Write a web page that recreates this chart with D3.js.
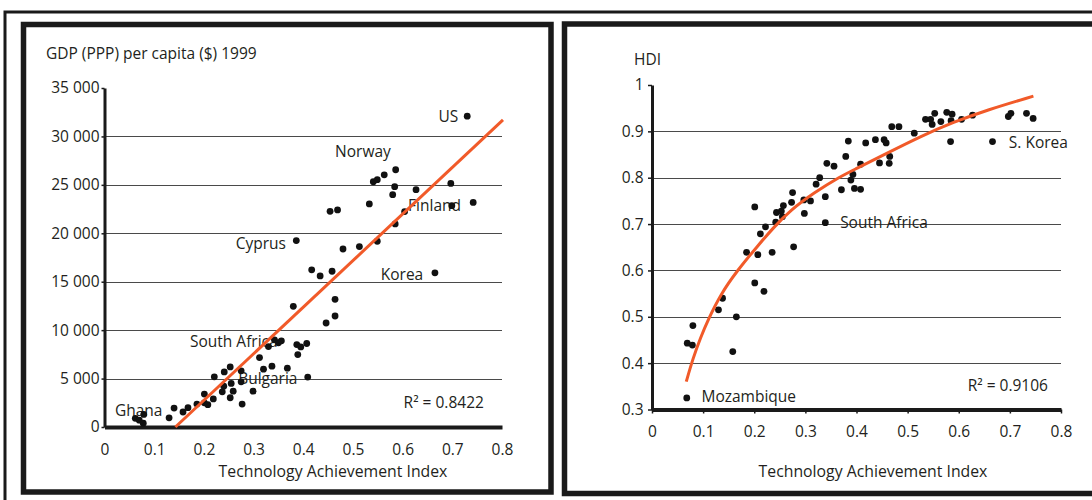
<!DOCTYPE html>
<html>
<head>
<meta charset="utf-8">
<script src="https://cdn.jsdelivr.net/npm/d3@7"></script>
<style>
  body { margin: 0; background: #fff; }
  svg text { font-family: "Open Sans", sans-serif; fill: #231f20; }
</style>
</head>
<body>
<svg id="chart" width="1092" height="500"></svg>
<script>
// Tick values shared by both panels
const taiTicks = [0, 0.1, 0.2, 0.3, 0.4, 0.5, 0.6, 0.7, 0.8];
const gdpTicks = [0, 5000, 10000, 15000, 20000, 25000, 30000, 35000];
const gdpGrid = [5000, 10000, 15000, 20000, 25000, 30000];
const hdiTicks = [0.3, 0.4, 0.5, 0.6, 0.7, 0.8, 0.9, 1];
const hdiGrid = [0.4, 0.5, 0.6, 0.7, 0.8, 0.9];

// Left panel: [technology achievement index, GDP per capita]
const gdpPoints = [
  [0.062, 900], [0.07, 700], [0.078, 400], [0.079, 1300],
  [0.13, 950], [0.14, 1950], [0.158, 1550], [0.168, 2000], [0.186, 2370],
  [0.201, 3400], [0.201, 2500], [0.208, 2300], [0.219, 2900], [0.221, 5180],
  [0.237, 3630], [0.241, 5690], [0.253, 6200], [0.253, 3020], [0.259, 3700],
  [0.255, 4500], [0.240, 4220], [0.277, 2370], [0.275, 5800], [0.275, 4660],
  [0.299, 3700], [0.312, 7170], [0.320, 5970], [0.337, 6280], [0.368, 6070],
  [0.330, 8300], [0.342, 9000], [0.350, 8700], [0.356, 8900], [0.387, 8510],
  [0.395, 8270], [0.407, 8620], [0.389, 7480], [0.409, 5150], [0.380, 12460],
  [0.446, 10740], [0.464, 11460], [0.464, 13180], [0.417, 16230], [0.434, 15600],
  [0.458, 16080], [0.480, 18380], [0.513, 18630], [0.549, 19180], [0.585, 20970],
  [0.604, 22240], [0.386, 19250], [0.454, 22270], [0.469, 22410], [0.533, 23030],
  [0.580, 23990], [0.584, 24810], [0.627, 24500], [0.541, 25320], [0.549, 25530],
  [0.563, 26040], [0.586, 26560], [0.697, 25150], [0.699, 22850], [0.742, 23190],
  [0.730, 32090], [0.665, 15920]
];
const gdpTrend = [[0.1427, 0], [0.802, 31700]];
const gdpLabels = [
  { name: "US", tai: 0.672, val: 31500 },
  { name: "Norway", tai: 0.464, val: 27900 },
  { name: "Finland", tai: 0.611, val: 22300 },
  { name: "Cyprus", tai: 0.264, val: 18380 },
  { name: "Korea", tai: 0.556, val: 15180 },
  { name: "South Africa", tai: 0.172, val: 8290 },
  { name: "Bulgaria", tai: 0.269, val: 4490 },
  { name: "Ghana", tai: 0.021, val: 1140 }
];
const gdpR2 = { text: "R\u00b2 = 0.8422", tai: 0.602, val: 1960 };

// Right panel: [technology achievement index, HDI]
const hdiPoints = [
  [0.068, 0.325], [0.069, 0.443], [0.079, 0.439], [0.080, 0.481], [0.130, 0.515],
  [0.138, 0.540], [0.165, 0.500], [0.158, 0.425], [0.201, 0.573], [0.219, 0.555],
  [0.185, 0.639], [0.207, 0.634], [0.235, 0.639], [0.277, 0.651], [0.212, 0.679],
  [0.222, 0.694], [0.242, 0.704], [0.201, 0.737], [0.2435, 0.725], [0.253, 0.728],
  [0.257, 0.740], [0.255, 0.716], [0.273, 0.747], [0.275, 0.768], [0.298, 0.723],
  [0.297, 0.752], [0.310, 0.750], [0.321, 0.786], [0.328, 0.800], [0.339, 0.759],
  [0.339, 0.703], [0.342, 0.831], [0.356, 0.825], [0.3705, 0.774], [0.379, 0.846],
  [0.384, 0.879], [0.389, 0.795], [0.393, 0.807], [0.396, 0.777], [0.408, 0.829],
  [0.408, 0.775], [0.418, 0.875], [0.437, 0.882], [0.445, 0.832], [0.454, 0.882],
  [0.458, 0.875], [0.464, 0.831], [0.465, 0.846], [0.469, 0.910], [0.483, 0.910],
  [0.513, 0.896], [0.535, 0.926], [0.545, 0.926], [0.548, 0.915], [0.553, 0.939],
  [0.565, 0.921], [0.5765, 0.941], [0.584, 0.878], [0.585, 0.923], [0.587, 0.937],
  [0.6055, 0.926], [0.627, 0.935], [0.666, 0.878], [0.697, 0.932], [0.702, 0.939],
  [0.7325, 0.939], [0.7455, 0.928]
];
const hdiTrend = [
  [0.067, 0.36], [0.08, 0.41], [0.095, 0.455], [0.109, 0.492], [0.135, 0.55],
  [0.167, 0.6], [0.206, 0.652], [0.238, 0.693], [0.271, 0.73], [0.316, 0.767],
  [0.369, 0.803], [0.395, 0.817], [0.46, 0.853], [0.525, 0.889], [0.59, 0.92],
  [0.655, 0.946], [0.746, 0.976]
];
const hdiLabels = [
  { name: "Mozambique", tai: 0.0967, val: 0.317 },
  { name: "S. Korea", tai: 0.698, val: 0.864 },
  { name: "South Africa", tai: 0.368, val: 0.692 }
];
const hdiR2 = { text: "R\u00b2 = 0.9106", tai: 0.6175, val: 0.339 };

const orange = "#f15a29";
const ink = "#1a1a1a";
const svg = d3.select("#chart");

// Outer frame and the two panel boxes
svg.append("path")
  .attr("d", "M5,500V12H1092")
  .attr("fill", "none").attr("stroke", ink).attr("stroke-width", 3);
svg.append("rect")
  .attr("x", 23.5).attr("y", 24.5).attr("width", 527.5).attr("height", 467.5)
  .attr("fill", "#fff").attr("stroke", ink).attr("stroke-width", 5.5);
svg.append("rect")
  .attr("x", 564.5).attr("y", 24).attr("width", 600).attr("height", 469.5)
  .attr("fill", "#fff").attr("stroke", ink).attr("stroke-width", 5.5);

const thousands = d3.formatLocale({ decimal: ".", thousands: " ", grouping: [3], currency: ["$", ""] }).format(",");

function drawPanel(cfg) {
  const g = svg.append("g");
  const x = cfg.x, y = cfg.y;
  const [x0, x1] = x.range();

  // Gridlines
  g.selectAll("line.grid")
    .data(cfg.grid)
    .enter()
    .append("line")
    .attr("class", "grid")
    .attr("x1", x0).attr("x2", x1)
    .attr("y1", (d) => Math.round(y(d)) + 0.5)
    .attr("y2", (d) => Math.round(y(d)) + 0.5)
    .attr("stroke", "#4a4a4a").attr("stroke-width", 1);

  // Y axis
  const yAxis = g.append("g")
    .attr("transform", `translate(${x0}, 0)`)
    .call(d3.axisLeft(y).tickValues(cfg.yTicks).tickFormat(cfg.yFormat)
      .tickSizeInner(cfg.yTickSize).tickSizeOuter(0).tickPadding(cfg.yPad));
  yAxis.select(".domain").attr("stroke", ink).attr("stroke-width", 3);
  yAxis.selectAll(".tick line").attr("stroke", ink).attr("stroke-width", 1.5);
  yAxis.selectAll("text").attr("font-size", 15.5).attr("fill", "#231f20")
    .attr("font-family", "Open Sans");

  // X axis
  const xAxis = g.append("g")
    .attr("transform", `translate(0, ${y.range()[0]})`)
    .call(d3.axisBottom(x).tickValues(taiTicks).tickFormat((d) => d)
      .tickSizeInner(cfg.xTickSize).tickSizeOuter(0).tickPadding(cfg.xPad));
  xAxis.select(".domain").attr("stroke", ink).attr("stroke-width", 4);
  xAxis.selectAll(".tick line").attr("stroke", ink).attr("stroke-width", 1.5);
  xAxis.selectAll("text").attr("font-size", 15.5).attr("fill", "#231f20")
    .attr("font-family", "Open Sans");

  // Axis titles
  g.append("text")
    .attr("x", cfg.titlePos[0]).attr("y", cfg.titlePos[1])
    .attr("font-size", 15.5)
    .text(cfg.title);
  g.append("text")
    .attr("x", cfg.xTitlePos[0]).attr("y", cfg.xTitlePos[1])
    .attr("text-anchor", "middle")
    .attr("font-size", 15.8)
    .text("Technology Achievement Index");

  // Country labels and R squared
  g.selectAll("text.lab")
    .data(cfg.labels)
    .enter()
    .append("text")
    .attr("class", "lab")
    .attr("x", (d) => x(d.tai))
    .attr("y", (d) => y(d.val))
    .attr("font-size", 15.5)
    .text((d) => d.name);
  g.append("text")
    .attr("x", x(cfg.r2.tai)).attr("y", y(cfg.r2.val))
    .attr("font-size", 15.5)
    .text(cfg.r2.text);

  // Points
  g.selectAll("circle")
    .data(cfg.points)
    .enter()
    .append("circle")
    .attr("cx", (d) => x(d[0]))
    .attr("cy", (d) => y(d[1]))
    .attr("r", 3.4)
    .attr("fill", "#111");

  // Trend line
  g.append("path")
    .datum(cfg.trend)
    .attr("fill", "none")
    .attr("stroke", orange)
    .attr("stroke-width", 3)
    .attr("d", d3.line().curve(d3.curveBasis).x((d) => x(d[0])).y((d) => y(d[1])));
}

drawPanel({
  x: d3.scaleLinear().domain([0, 0.8]).range([104.5, 502]),
  y: d3.scaleLinear().domain([0, 35000]).range([427, 88]),
  grid: gdpGrid,
  yTicks: gdpTicks,
  yFormat: thousands,
  yTickSize: 3, yPad: 2,
  xTickSize: 0, xPad: 17,
  title: "GDP (PPP) per capita ($) 1999",
  titlePos: [46, 59],
  xTitlePos: [333, 477],
  labels: gdpLabels,
  r2: gdpR2,
  points: gdpPoints,
  trend: gdpTrend
});

drawPanel({
  x: d3.scaleLinear().domain([0, 0.8]).range([652, 1061]),
  y: d3.scaleLinear().domain([0.3, 1]).range([409.5, 85]),
  grid: hdiGrid,
  yTicks: hdiTicks,
  yFormat: (d) => d,
  yTickSize: 4, yPad: 4.5,
  xTickSize: 4, xPad: 12,
  title: "HDI",
  titlePos: [634, 65],
  xTitlePos: [873, 477],
  labels: hdiLabels,
  r2: hdiR2,
  points: hdiPoints,
  trend: hdiTrend
});
</script>
</body>
</html>
